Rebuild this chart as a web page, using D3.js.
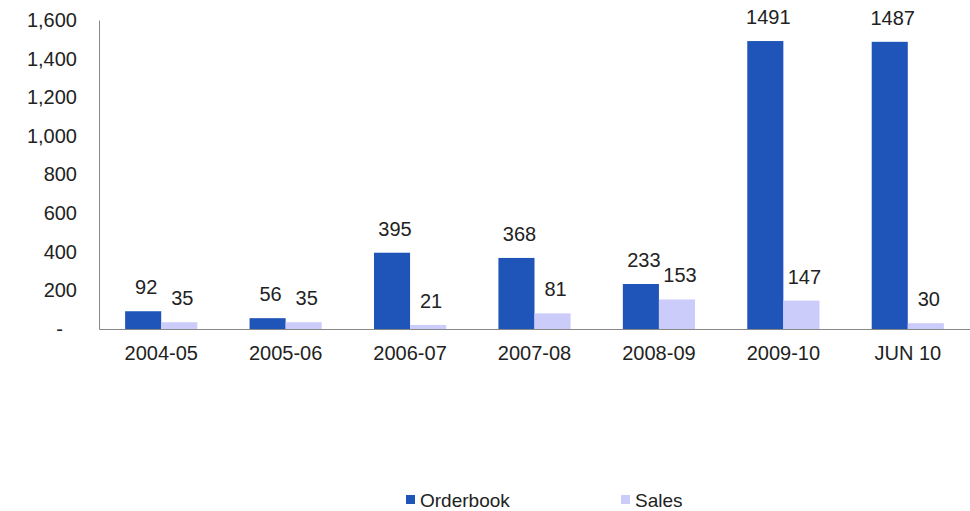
<!DOCTYPE html>
<html>
<head>
<meta charset="utf-8">
<script src="https://cdn.jsdelivr.net/npm/d3@7"></script>
<style>
  body { margin: 0; background: #fff; }
  svg { display: block; font-family: Arial, "Liberation Sans", sans-serif; }
</style>
</head>
<body>
<svg id="chart" width="970" height="511"></svg>
<script>
// Data
const categories = ["2004-05", "2005-06", "2006-07", "2007-08", "2008-09", "2009-10", "JUN 10"];
const orderbook = [92, 56, 395, 368, 233, 1491, 1487];
const sales = [35, 35, 21, 81, 153, 147, 30];
const yTicks = [0, 200, 400, 600, 800, 1000, 1200, 1400, 1600];
const seriesNames = ["Orderbook", "Sales"];
const seriesColors = ["#1f54b8", "#ccccfb"];

const FONT = "Arial, 'Liberation Sans', sans-serif";
const svg = d3.select("#chart");
const margin = { left: 99, right: 0, top: 20, bottom: 182 };
const W = 970, H = 511;

const x = d3.scaleBand().domain(categories).range([margin.left, W - margin.right]).paddingInner(0.42).paddingOuter(0.21);
const x1 = d3.scaleBand().domain(seriesNames).range([0, x.bandwidth()]);
const y = d3.scaleLinear().domain([0, 1600]).range([H - margin.bottom, margin.top]);

// Y axis (zero shown as an accounting dash)
const yAxis = d3.axisLeft(y).tickValues(yTicks).tickSize(0).tickPadding(22)
  .tickFormat(d => d === 0 ? "-" : d3.format(",")(d));
const gy = svg.append("g").attr("transform", `translate(${margin.left},0)`).call(yAxis);
gy.select(".domain").attr("stroke", "#888");
gy.selectAll("text").attr("font-size", 20).attr("fill", "#222").attr("font-family", FONT);
gy.selectAll(".tick").filter(d => d === 0).select("text").attr("dx", -14);

// X axis
const xAxis = d3.axisBottom(x).tickSize(0).tickPadding(17);
const gx = svg.append("g").attr("transform", `translate(0,${y(0)})`).call(xAxis);
gx.select(".domain").attr("stroke", "#888");
gx.selectAll("text").attr("font-size", 20).attr("fill", "#222").attr("font-family", FONT);

// Bars
const rows = categories.map((c, i) => ({ cat: c, vals: [orderbook[i], sales[i]] }));
const groups = svg.append("g").selectAll("g").data(rows).join("g")
  .attr("transform", d => `translate(${x(d.cat)},0)`);

groups.selectAll("rect").data(d => d.vals.map((v, j) => ({ v, j }))).join("rect")
  .attr("x", d => x1(seriesNames[d.j]))
  .attr("width", x1.bandwidth())
  .attr("y", d => y(d.v))
  .attr("height", d => y(0) - y(d.v))
  .attr("fill", d => seriesColors[d.j]);

groups.selectAll("text").data(d => d.vals.map((v, j) => ({ v, j }))).join("text")
  .attr("x", d => x1(seriesNames[d.j]) + x1.bandwidth() / 2 + 3)
  .attr("y", d => y(d.v) - 17)
  .attr("text-anchor", "middle")
  .attr("font-size", 20)
  .attr("fill", "#222")
  .text(d => d.v);

// Legend
const legend = svg.append("g");
const legendX = [406, 621];
seriesNames.forEach((name, i) => {
  legend.append("rect").attr("x", legendX[i]).attr("y", 495).attr("width", 9).attr("height", 9).attr("fill", seriesColors[i]);
  legend.append("text").attr("x", legendX[i] + 14).attr("y", 507).attr("font-size", 19).attr("fill", "#222").text(name);
});
</script>
</body>
</html>
